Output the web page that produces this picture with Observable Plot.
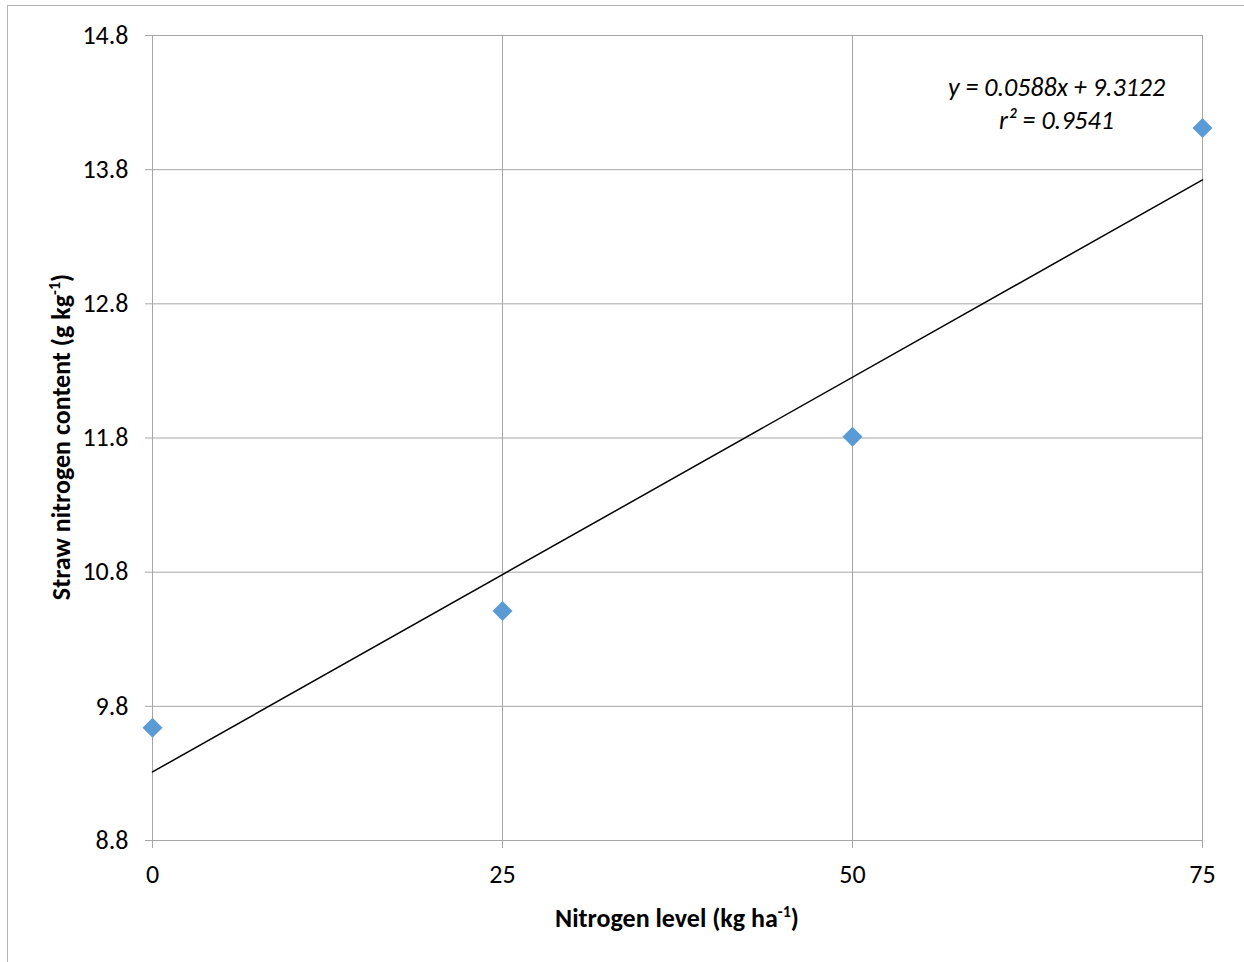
<!DOCTYPE html>
<html>
<head>
<meta charset="utf-8">
<script src="https://cdn.jsdelivr.net/npm/d3@7"></script>
<script src="https://cdn.jsdelivr.net/npm/@observablehq/plot@0.6"></script>
<style>
  html, body { margin: 0; padding: 0; background: #fff; overflow: hidden; }
  #wrap { position: relative; width: 1244px; height: 962px; }
  #frame { position: absolute; left: 7px; top: 5px; width: 1300px; height: 1000px; border: 1px solid #b4b4b4; pointer-events: none; }
  svg { font-family: Calibri, Carlito, Lato, sans-serif; }
</style>
</head>
<body>
<div id="wrap"><div id="frame"></div></div>
<script>
// Data
const nitrogenLevels = [0, 25, 50, 75];
const strawNitrogen = [9.64, 10.51, 11.81, 14.11];
const xTicks = [0, 25, 50, 75];
const yTicks = [8.8, 9.8, 10.8, 11.8, 12.8, 13.8, 14.8];
const equationText = "y = 0.0588x + 9.3122";
const r2Text = "r² = 0.9541";

const data = nitrogenLevels.map((x, i) => ({x, y: strawNitrogen[i]}));
const gridColor = "#a6a6a6";
const font = "Calibri, Carlito, Lato, sans-serif";

const chart = Plot.plot({
  width: 1244,
  height: 962,
  marginLeft: 152,
  marginRight: 42,
  marginTop: 35,
  marginBottom: 122,
  style: {fontFamily: font, background: "transparent"},
  x: {domain: [0, 75], label: null},
  y: {domain: [8.8, 14.8], label: null},
  marks: [
    Plot.gridX(xTicks, {stroke: gridColor, strokeOpacity: 1, strokeWidth: 1}),
    Plot.gridY(yTicks, {stroke: gridColor, strokeOpacity: 1, strokeWidth: 1}),
    Plot.axisX({ticks: xTicks, tickSize: 8, tickPadding: 16, stroke: gridColor, fill: "black", fontSize: 26, label: null, tickFormat: d3.format("d")}),
    Plot.axisY({ticks: yTicks, tickSize: 7, tickPadding: 17, stroke: gridColor, fill: "black", fontSize: 26, label: null, tickFormat: d3.format(".1f")}),
    Plot.linearRegressionY(data, {x: "x", y: "y", ci: 0, stroke: "black", strokeWidth: 1.5}),
    Plot.dot(data, {x: "x", y: "y", symbol: "diamond2", r: 9, fill: "#5b9bd5", stroke: "none"}),
    Plot.text([equationText + "\n" + r2Text], {
      frameAnchor: "top-right", dx: -146, dy: 66, text: d => d,
      textAnchor: "middle", lineAnchor: "middle", lineHeight: 1.27,
      fontSize: 26, fontStyle: "italic", fill: "black"
    })
  ]
});

document.getElementById("wrap").prepend(chart);

const svg = d3.select(chart);
// X axis title with superscript
const xt = svg.append("text")
  .attr("x", 677).attr("y", 927)
  .attr("text-anchor", "middle")
  .attr("font-size", 26).attr("font-weight", "bold").attr("fill", "black")
  .attr("font-family", font);
xt.append("tspan").text("Nitrogen level (kg ha");
xt.append("tspan").attr("font-size", 16).attr("dy", -10).text("-1");
xt.append("tspan").attr("dy", 10).text(")");

// Y axis title with superscript
const yt = svg.append("text")
  .attr("transform", "translate(70,437) rotate(-90)")
  .attr("text-anchor", "middle")
  .attr("font-size", 26).attr("font-weight", "bold").attr("fill", "black")
  .attr("font-family", font);
yt.append("tspan").text("Straw nitrogen content (g kg");
yt.append("tspan").attr("font-size", 16).attr("dy", -10).text("-1");
yt.append("tspan").attr("dy", 10).text(")");
</script>
</body>
</html>
